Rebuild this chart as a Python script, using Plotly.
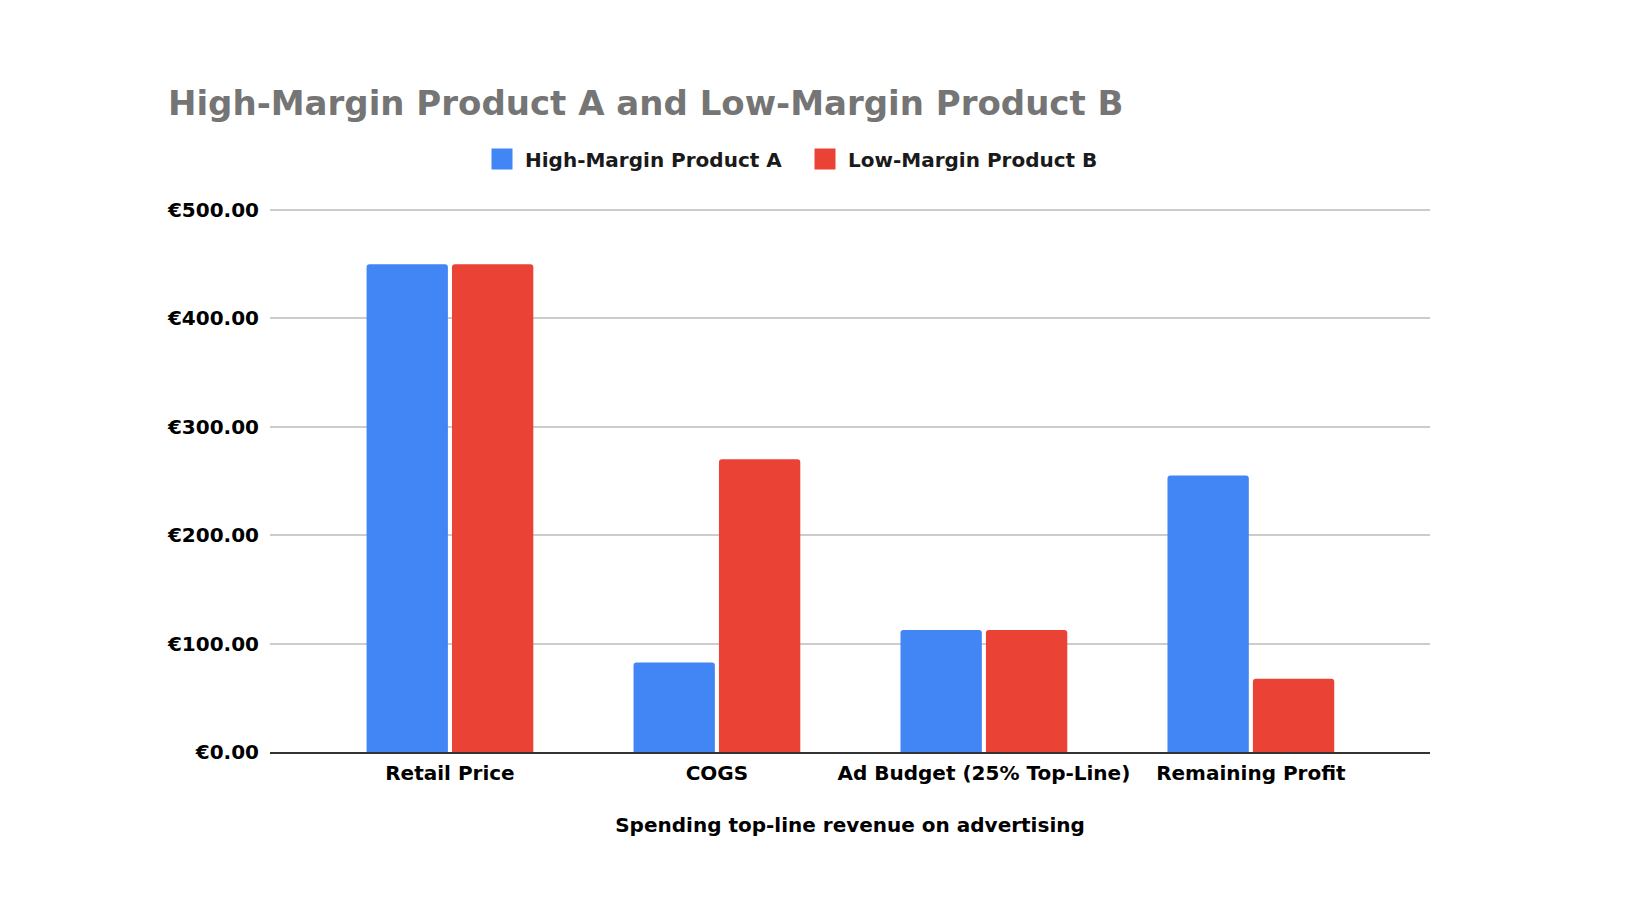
import plotly.graph_objects as go

categories = ["Retail Price", "COGS", "Ad Budget (25% Top-Line)", "Remaining Profit"]
product_a = [450, 82.5, 112.5, 255]
product_b = [450, 270, 112.5, 67.5]
series_names = ["High-Margin Product A", "Low-Margin Product B"]
series_colors = ["#4285F4", "#EA4335"]
y_ticks = [0, 100, 200, 300, 400, 500]

font_family = "DejaVu Sans, Verdana, sans-serif"

fig = go.Figure()
for name, vals, col in zip(series_names, [product_a, product_b], series_colors):
    fig.add_trace(go.Bar(x=categories, y=vals, name=name, showlegend=False,
                         marker=dict(color=col, line=dict(width=0))))
    # bigger legend squares than the bar default
    fig.add_trace(go.Scatter(x=[None], y=[None], mode="markers", name=name,
                             marker=dict(symbol="square", size=16, color=col,
                                         line=dict(color=col, width=5))))

fig.update_layout(
    width=1640, height=924,
    paper_bgcolor="white", plot_bgcolor="white",
    margin=dict(l=262, r=218, t=201, b=180),
    font=dict(family=font_family, color="#000000", size=20),
    title=dict(text="<b>High-Margin Product A and Low-Margin Product B</b>",
               font=dict(size=34, color="#757575", family=font_family),
               xref="container", x=160 / 1640, xanchor="left",
               yref="container", y=1 - 95 / 924, yanchor="middle"),
    legend=dict(orientation="h", xref="container", x=471 / 1640, xanchor="left",
                yref="container", y=1 - 151 / 924, yanchor="middle",
                entrywidth=272, itemwidth=36,
                font=dict(size=20, family=font_family, color="#1a1a1a", weight="bold")),
    barmode="group", bargap=0.36, bargroupgap=0.048, barcornerradius=3,
)
fig.update_xaxes(
    range=[-0.674, 3.671],
    showline=True, linecolor="#333333", linewidth=2,
    tickfont=dict(size=20, family=font_family),
    ticklabelstandoff=2,
    title=dict(text="<b>Spending top-line revenue on advertising</b>",
               font=dict(size=20, family=font_family), standoff=34),
    tickvals=categories,
    ticktext=["<b>" + c + "</b>" for c in categories],
)
fig.update_yaxes(
    range=[0, 501], tickvals=y_ticks,
    ticktext=["<b>€{:,.2f}</b>".format(v) for v in y_ticks],
    showgrid=True, gridcolor="#cccccc", gridwidth=1.5,
    zeroline=False,
    tickfont=dict(size=20, family=font_family),
    ticklabelstandoff=10,
)

fig.write_html("out.html")
